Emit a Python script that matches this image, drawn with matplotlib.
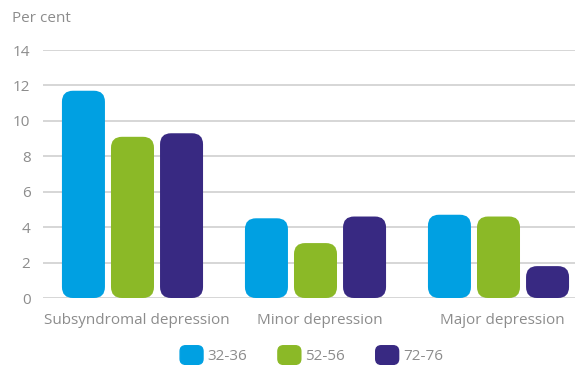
import matplotlib.pyplot as plt
import matplotlib.transforms as mtransforms
import numpy as np
from matplotlib.patches import FancyBboxPatch
from matplotlib.legend_handler import HandlerPatch

# Datos del gráfico
categories = ['Subsyndromal depression', 'Minor depression', 'Major depression']
groups = ['32-36', '52-56', '72-76']
values_32_36 = [11.7, 4.5, 4.7]
values_52_56 = [9.1, 3.1, 4.6]
values_72_76 = [9.3, 4.6, 1.8]
series = [values_32_36, values_52_56, values_72_76]
colors = ['#00A0E2', '#8BB927', '#382982']

plt.rcParams['font.family'] = ['Open Sans', 'DejaVu Sans']
grey = '#8c8c8c'

fig = plt.figure(figsize=(5.75, 3.65), dpi=100)
ax = fig.add_axes([43 / 575, 67 / 365, 532 / 575, 248 / 365])

x = np.arange(len(categories))
width = 0.235
step = 0.268
xlim = (-0.489, 2.418)
ylim = (0, 14)
ax.set_xlim(*xlim)
ax.set_ylim(*ylim)

# relación de aspecto para que las esquinas redondeadas salgan circulares
ax_w = 532 / (xlim[1] - xlim[0])
ax_h = 248 / (ylim[1] - ylim[0])
aspect = ax_w / ax_h
r = 11 / ax_w

for i, vals in enumerate(series):
    for xi, v in zip(x + (i - 1) * step, vals):
        p = FancyBboxPatch((xi - width / 2, 0), width, v,
                           boxstyle=f'round,pad=0,rounding_size={r}',
                           mutation_aspect=aspect, facecolor=colors[i],
                           edgecolor='none', zorder=3)
        ax.add_patch(p)

ax.set_yticks(np.arange(0, 15, 2))
ax.yaxis.grid(True, color='#cccccc', linewidth=1.1, zorder=0)
ax.set_axisbelow(True)
ax.set_xticks(x)
ax.set_xticklabels(categories)
ax.tick_params(axis='both', length=0, labelsize=11, colors=grey, pad=11)
ax.tick_params(axis='y', pad=9)
for s in ax.spines.values():
    s.set_visible(False)

# desplazar un poco las etiquetas del eje x a la derecha
shift = mtransforms.ScaledTranslation(4 / 100, 0, fig.dpi_scale_trans)
for lbl in ax.get_xticklabels():
    lbl.set_transform(lbl.get_transform() + shift)

fig.text(12 / 575, 1 - 19 / 365, 'Per cent', fontsize=11, color=grey, va='center')


def rounded_box(legend, orig_handle, xdescent, ydescent, width, height, fontsize):
    return FancyBboxPatch((-xdescent, -ydescent), width, height,
                          boxstyle='round,pad=0,rounding_size=4')


handles = [plt.Rectangle((0, 0), 1, 1, color=c) for c in colors]
leg = ax.legend(handles, groups, loc='center', bbox_to_anchor=(0.505, -0.23),
                ncol=3, frameon=False, fontsize=11, labelcolor=grey,
                handlelength=1.5, handleheight=1.5, handletextpad=0.3,
                columnspacing=2.0,
                handler_map={plt.Rectangle: HandlerPatch(patch_func=rounded_box)})

fig.savefig('out.png', dpi=100)
